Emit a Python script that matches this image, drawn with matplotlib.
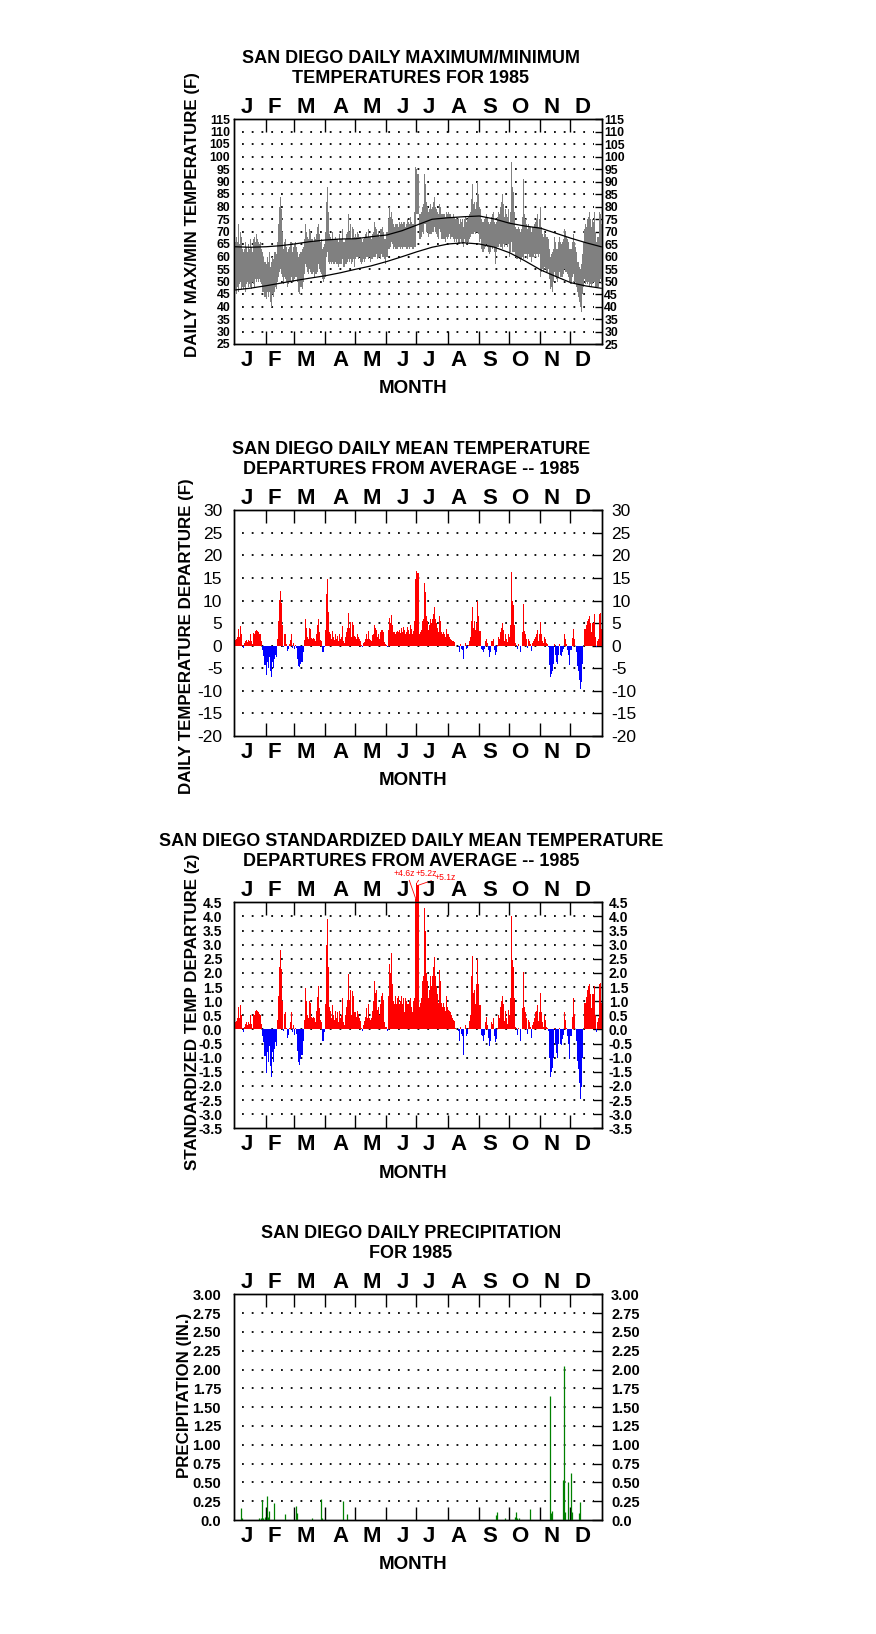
import matplotlib
matplotlib.use("Agg")
import matplotlib.pyplot as plt
from matplotlib.transforms import blended_transform_factory

plt.rcParams["font.family"] = ["Liberation Sans", "DejaVu Sans"]

W, H = 876, 1634
BOX_L, BOX_R = 234.3, 601.7

MONTHS = ["J", "F", "M", "A", "M", "J", "J", "A", "S", "O", "N", "D"]
MONTH_START = [0, 31, 59, 90, 120, 151, 181, 212, 243, 273, 304, 334]
LETTER_DAY = [11.6, 39.7, 70.8, 104.6, 135.9, 166.7, 193.2, 222.6, 253.0, 283.2, 314.2, 345.6]

# daily max / min temperature (F), one line per month
TMAX = [
    64, 66, 68, 66, 73, 65, 70, 68, 63, 62, 63, 66, 64, 62, 65, 63, 67, 64, 62, 67, 68, 66, 69, 67, 66, 65, 66, 63, 62, 60, 58,
    57, 60, 58, 62, 56, 58, 60, 59, 62, 62, 61, 66, 73, 80, 84, 79, 70, 63, 66, 67, 64, 62, 63, 64, 66, 66, 62, 64,
    65, 66, 64, 62, 60, 61, 62, 62, 63, 64, 67, 73, 70, 68, 67, 71, 70, 67, 67, 66, 68, 67, 69, 72, 73, 69, 66, 67, 63, 64, 65,
    70, 82, 88, 78, 69, 68, 67, 70, 67, 67, 68, 67, 67, 66, 69, 67, 67, 71, 66, 66, 67, 69, 70, 77, 70, 73, 67, 72, 71, 68,
    69, 68, 70, 69, 68, 68, 67, 66, 67, 68, 69, 70, 68, 71, 68, 68, 67, 69, 70, 74, 72, 71, 69, 70, 68, 71, 71, 72, 70, 67, 67,
    70, 70, 75, 80, 76, 78, 75, 73, 72, 73, 73, 73, 72, 74, 73, 74, 73, 74, 74, 72, 73, 75, 74, 73, 76, 74, 73, 73, 78, 96,
    95, 93, 77, 77, 78, 80, 81, 93, 89, 82, 80, 78, 79, 81, 79, 80, 82, 84, 80, 79, 78, 77, 81, 80, 77, 77, 77, 77, 76, 78, 77,
    78, 77, 77, 76, 76, 77, 76, 75, 76, 75, 75, 73, 75, 74, 75, 72, 75, 76, 74, 75, 76, 77, 78, 83, 89, 81, 82, 79, 82, 90, 85,
    80, 79, 75, 74, 74, 75, 76, 77, 76, 74, 73, 74, 76, 77, 78, 74, 73, 74, 76, 78, 77, 80, 82, 85, 81, 76, 79, 77, 76, 79,
    74, 78, 98, 88, 86, 78, 72, 71, 71, 72, 71, 70, 71, 76, 91, 77, 75, 73, 71, 73, 72, 72, 70, 72, 72, 73, 74, 75, 77, 72, 75,
    80, 72, 69, 68, 70, 69, 68, 68, 67, 63, 60, 61, 62, 63, 68, 66, 63, 63, 66, 68, 66, 65, 66, 67, 71, 70, 68, 67, 66, 63,
    63, 66, 69, 66, 64, 62, 58, 58, 56, 55, 57, 61, 66, 71, 73, 72, 75, 76, 78, 75, 72, 75, 74, 78, 70, 66, 68, 68, 78, 77, 73,
]
TMIN = [
    46, 47, 45, 48, 46, 49, 50, 47, 48, 47, 48, 46, 49, 50, 48, 49, 48, 47, 50, 49, 48, 51, 50, 51, 50, 51, 50, 49, 46, 46, 44,
    43, 46, 44, 46, 42, 40, 45, 44, 46, 48, 47, 50, 52, 54, 55, 53, 52, 49, 52, 51, 50, 48, 49, 50, 50, 52, 50, 50,
    51, 52, 52, 50, 46, 45, 48, 48, 47, 50, 53, 57, 56, 54, 53, 55, 54, 53, 53, 54, 52, 53, 53, 54, 57, 55, 54, 53, 51, 50, 51,
    52, 60, 62, 58, 57, 58, 57, 58, 57, 57, 58, 57, 57, 56, 57, 57, 57, 59, 56, 56, 57, 57, 58, 59, 58, 59, 57, 58, 59, 56,
    59, 60, 60, 59, 60, 58, 57, 58, 59, 58, 59, 60, 60, 59, 60, 58, 59, 59, 60, 60, 60, 61, 59, 60, 60, 59, 61, 60, 60, 59, 57,
    60, 60, 63, 63, 64, 66, 65, 63, 64, 63, 63, 63, 64, 64, 63, 64, 63, 64, 64, 64, 63, 63, 64, 63, 64, 64, 63, 63, 64, 64,
    77, 77, 67, 67, 68, 70, 69, 73, 73, 70, 70, 68, 69, 69, 69, 70, 70, 72, 70, 69, 68, 67, 71, 70, 67, 67, 67, 67, 66, 68, 67,
    68, 69, 67, 68, 68, 67, 66, 67, 66, 67, 65, 65, 67, 66, 65, 64, 67, 66, 66, 65, 66, 67, 68, 69, 69, 69, 70, 69, 70, 70, 69,
    66, 67, 63, 62, 62, 63, 64, 65, 64, 62, 61, 62, 64, 63, 64, 62, 57, 62, 64, 64, 65, 64, 64, 63, 65, 64, 65, 65, 64, 65,
    60, 62, 66, 62, 62, 62, 60, 59, 59, 60, 59, 58, 59, 60, 59, 61, 61, 61, 59, 61, 60, 60, 58, 60, 60, 61, 60, 61, 61, 60, 61,
    52, 54, 55, 54, 56, 55, 54, 54, 55, 51, 47, 48, 46, 50, 54, 52, 51, 50, 52, 54, 52, 52, 52, 53, 55, 54, 54, 53, 52, 50,
    49, 52, 53, 50, 50, 48, 46, 44, 42, 40, 38, 45, 48, 51, 49, 50, 49, 50, 48, 49, 48, 49, 50, 50, 48, 48, 48, 48, 50, 51, 49,
]

# normal max / min (F) at month starts and mid-months
NORM_DAY = [0, 15, 31, 45, 59, 74, 90, 105, 120, 135, 151, 166, 181, 196, 212, 227, 243, 258, 273, 288, 304, 319, 334, 349, 364]
NORM_MAX = [63.9, 63.7, 63.9, 64.3, 65.0, 65.9, 66.6, 67.0, 67.1, 67.9, 68.6, 70.3, 72.6, 74.9, 75.5, 75.9, 76.2, 75.0, 73.3, 72.2, 71.3, 69.3, 67.3, 65.5, 63.9]
NORM_MIN = [46.6, 47.3, 48.3, 49.3, 50.3, 51.3, 52.3, 53.5, 54.9, 56.2, 58.0, 59.9, 61.9, 63.7, 65.0, 65.5, 65.0, 63.7, 61.5, 58.3, 54.6, 52.0, 49.5, 48.2, 47.3]

# daily mean temperature departure (F)
DEP = [
    0.8, 1.2, 1.5, 2.0, 3.8, 2.0, 4.3, 2.5, 0.2, -0.4, 0.5, 1.0, 1.2, 0.8, 1.3, 1.0, 2.5, 1.0, 0.3, 2.8, 2.5, 3.3, 3.5, 3.2, 3.0, 2.6, 2.6, 1.0, -1.0, -2.2, -4.2,
    -6.5, -3.5, -5.0, -2.5, -5.5, -7.0, -3.5, -5.0, -3.0, -2.0, -2.5, 1.5, 5.5, 10.2, 12.2, 9.5, 4.5, -0.3, 2.5, 2.7, 0.3, -1.2, -0.8, 0.3, 1.2, 2.5, -0.5, 0.5,
    -0.8, 0.2, -0.6, -3.0, -4.5, -4.8, -4.0, -3.5, -3.5, -1.5, 1.3, 6.0, 4.0, 2.0, 1.5, 4.0, 3.8, 1.8, 1.5, 1.7, 1.5, 1.0, 2.5, 4.5, 6.0, 3.0, 1.3, 1.0, -1.5, -1.5, -0.3,
    3.5, 11.5, 14.8, 7.5, 3.0, 2.5, 1.5, 3.3, 2.0, 1.3, 2.5, 1.5, 2.2, 1.0, 2.5, 1.5, 2.0, 4.3, 1.0, 0.5, 2.0, 3.0, 4.0, 7.3, 4.0, 5.3, 2.0, 5.2, 4.5, 2.2,
    2.0, 1.5, 2.5, 2.0, 1.5, 1.0, 0.2, -0.3, 0.5, 0.8, 1.5, 2.5, 1.5, 3.2, 1.5, 1.2, 1.0, 2.3, 2.5, 4.5, 4.0, 3.5, 2.0, 2.5, 1.5, 3.0, 3.5, 3.5, 3.0, 0.8, 0.3,
    0.2, -0.3, 3.5, 6.2, 5.0, 6.8, 4.5, 3.0, 3.0, 2.5, 3.0, 3.2, 3.0, 3.5, 2.8, 4.0, 3.0, 4.2, 3.5, 2.5, 3.0, 4.2, 3.5, 2.5, 4.5, 3.8, 2.5, 3.2, 5.5, 14.8,
    16.5, 16.2, 2.5, 3.0, 3.5, 5.5, 6.0, 13.8, 12.0, 6.5, 5.5, 3.5, 4.5, 6.0, 5.0, 6.0, 7.0, 8.5, 6.0, 5.0, 4.0, 3.0, 6.5, 5.5, 3.0, 2.5, 3.0, 2.5, 2.0, 3.8, 2.5,
    2.5, 2.0, 1.5, 1.2, 1.0, 1.0, 0.8, 0.0, 0.0, 0.0, -0.2, -1.5, 0.3, -0.7, -1.0, -3.0, 0.0, 0.5, -0.8, -0.5, 0.2, 1.0, 2.0, 5.5, 8.5, 4.0, 5.5, 3.5, 5.0, 9.8, 6.5,
    3.3, 3.3, -0.8, -1.0, -1.5, -0.8, 1.0, 1.5, 0.5, -1.0, -2.5, -1.5, 1.0, 1.0, 1.5, -1.0, -2.0, -1.5, 0.2, 2.0, 1.5, 3.0, 4.0, 5.0, 3.5, 1.0, 2.5, 1.5, 0.8, 2.5,
    2.0, 4.5, 16.3, 10.0, 9.0, 4.5, 0.5, 0.0, -0.8, 0.3, 0.0, -1.5, 0.0, 3.0, 9.2, 3.3, 2.5, 1.5, -0.5, 1.5, 1.0, 0.3, -1.2, 0.5, 1.0, 1.5, 2.0, 2.5, 3.5, 1.0, 2.5,
    5.2, 2.5, 1.0, 0.5, 2.0, 1.5, 0.5, 0.3, -0.3, -4.2, -7.0, -6.3, -5.5, -4.0, 0.3, -2.0, -3.5, -4.0, -2.0, 0.3, -2.0, -2.2, -1.5, -0.8, 2.5, 1.5, 0.3, -1.0, -2.0, -4.2,
    -1.0, 1.8, 3.8, 1.5, 0.0, -1.5, -4.5, -5.5, -7.5, -9.5, -8.0, -4.0, 0.0, 3.8, 3.8, 4.5, 5.5, 6.0, 6.5, 5.0, 3.0, 5.0, 5.0, 7.0, 2.0, -0.3, 1.0, 1.5, 7.0, 7.3, 3.8,
]

# standardized daily mean temperature departure (z)
ZDEP = [
    0.15, 0.25, 0.3, 0.4, 0.8, 0.4, 0.85, 0.5, 0.05, -0.1, 0.1, 0.2, 0.25, 0.15, 0.25, 0.2, 0.5, 0.2, 0.05, 0.55, 0.5, 0.65, 0.7, 0.65, 0.6, 0.55, 0.5, 0.2, -0.25, -0.45, -0.95,
    -1.55, -0.8, -1.15, -0.6, -1.3, -1.7, -0.8, -1.15, -0.7, -0.45, -0.6, 0.35, 1.2, 2.2, 2.8, 2.15, 1.0, -0.05, 0.55, 0.6, 0.05, -0.3, -0.2, 0.05, 0.25, 0.6, -0.1, 0.15,
    -0.2, 0.05, -0.15, -0.75, -1.15, -1.25, -1.05, -0.9, -0.9, -0.4, 0.35, 1.45, 1.0, 0.5, 0.4, 1.0, 0.95, 0.45, 0.4, 0.45, 0.4, 0.25, 0.65, 1.15, 1.55, 0.75, 0.35, 0.25, -0.4, -0.4, -0.1,
    0.9, 3.0, 3.9, 2.2, 0.8, 0.65, 0.4, 0.85, 0.5, 0.35, 0.65, 0.4, 0.6, 0.25, 0.65, 0.4, 0.5, 1.1, 0.25, 0.15, 0.5, 0.8, 1.05, 1.95, 1.05, 1.4, 0.5, 1.35, 1.2, 0.6,
    0.6, 0.45, 0.65, 0.55, 0.4, 0.3, 0.05, -0.05, 0.15, 0.3, 0.45, 0.75, 0.4, 0.9, 0.4, 0.35, 0.4, 0.65, 1.0, 1.7, 1.3, 1.4, 0.7, 0.8, 0.5, 0.9, 1.2, 1.3, 1.05, 0.25, 0.1,
    0.1, -0.05, 1.2, 2.3, 2.0, 2.7, 1.6, 1.0, 0.9, 1.2, 0.9, 1.1, 1.2, 0.9, 1.0, 1.2, 0.9, 1.1, 0.6, 1.1, 1.0, 0.9, 0.9, 1.0, 1.1, 0.8, 0.6, 1.0, 1.1, 4.6,
    5.2, 5.1, 0.8, 0.95, 1.1, 1.7, 1.9, 4.3, 3.5, 2.0, 1.7, 1.1, 1.4, 1.9, 1.55, 1.9, 2.2, 2.55, 1.9, 1.55, 1.25, 0.95, 2.1, 1.7, 0.95, 0.8, 0.95, 0.8, 0.65, 1.2, 0.8,
    0.7, 0.65, 0.6, 0.5, 0.4, 0.35, 0.3, 0.05, 0.0, 0.0, -0.05, -0.4, 0.1, -0.15, -0.25, -0.9, 0.0, 0.15, -0.25, -0.15, 0.05, 0.3, 0.5, 1.9, 2.6, 1.3, 1.4, 0.9, 1.6, 2.5, 1.6,
    0.85, 0.85, -0.2, -0.25, -0.4, -0.2, 0.25, 0.45, 0.15, -0.3, -0.6, -0.4, 0.25, 0.2, 0.4, -0.25, -0.45, -0.35, 0.05, 0.5, 0.4, 0.8, 1.0, 1.2, 0.9, 0.3, 0.65, 0.4, 0.2, 0.7,
    0.5, 1.1, 4.0, 2.45, 2.2, 1.1, 0.1, 0.0, -0.2, 0.05, 0.0, -0.4, 0.0, 0.75, 2.05, 0.8, 0.6, 0.4, -0.15, 0.35, 0.25, 0.1, -0.3, 0.15, 0.25, 0.4, 0.6, 0.65, 0.85, 0.3, 0.6,
    1.3, 0.6, 0.25, 0.1, 0.5, 0.35, 0.1, 0.05, -0.05, -1.0, -1.7, -1.5, -1.35, -1.0, 0.05, -0.5, -0.85, -1.0, -0.5, 0.05, -0.5, -0.55, -0.35, -0.2, 0.6, 0.35, 0.05, -0.25, -0.5, -1.05,
    -0.25, 0.45, 1.1, 0.55, 0.0, -0.4, -1.1, -1.4, -1.9, -2.45, -2.05, -1.0, 0.0, 0.95, 0.95, 1.15, 1.4, 1.55, 1.6, 1.25, 0.75, 1.25, 1.25, 1.55, 0.5, -0.1, 0.25, 0.4, 1.6, 1.65, 0.95,
]

# daily precipitation (in.), only days with rain
PRCP_DAY = [6, 7, 24, 26, 27, 28, 30, 32, 33, 34, 39, 50, 61, 62, 77, 86, 87, 107, 111, 259,
            260, 268, 278, 279, 280, 282, 293, 313, 314, 315, 326, 327, 328, 331, 334, 335, 342, 343]
PRCP_IN = [0.16, 0.03, 0.02, 0.03, 0.27, 0.03, 0.04, 0.32, 0.04, 0.12, 0.23, 0.08, 0.18, 0.09, 0.03, 0.28, 0.03, 0.25, 0.08, 0.07,
           0.10, 0.03, 0.04, 0.10, 0.02, 0.02, 0.15, 1.65, 0.09, 0.12, 0.53, 2.05, 0.10, 0.51, 0.63, 0.10, 0.09, 0.24]

for name, arr in [("TMAX", TMAX), ("TMIN", TMIN), ("DEP", DEP), ("ZDEP", ZDEP)]:
    if len(arr) != 365:
        raise SystemExit(f"{name} has {len(arr)} values")

DAYS = list(range(365))

fig = plt.figure(figsize=(W / 100, H / 100), dpi=100)


def put(x, y, s, fs, weight="bold", ha="center", xtrans=None, **kw):
    # y is the pixel centre of the capitals, measured from the top
    base = y + 0.716 * fs * 100 / 72 / 2
    if xtrans is None:
        fig.text(x / W, 1 - base / H, s, fontsize=fs, fontweight=weight, ha=ha, va="baseline", **kw)
    else:
        tr = blended_transform_factory(xtrans, fig.transFigure)
        fig.text(x, 1 - base / H, s, fontsize=fs, fontweight=weight, ha=ha, va="baseline", transform=tr, **kw)


def panel(top, bottom, ylo, yhi, step, fmt, tick_fs, tick_w, lpad, rpad, rlen, titles, ylabel, ylab_xy):
    ax = fig.add_axes([BOX_L / W, 1 - bottom / H, (BOX_R - BOX_L) / W, (bottom - top) / H])
    n = int(round((yhi - ylo) / step)) + 1
    vals = [ylo + i * step for i in range(n)]
    labels = [fmt(v) for v in vals]
    ax.set_xlim(-0.5, 364.5)
    ax.set_ylim(ylo, yhi)
    for v in vals[1:-1]:
        ax.axhline(v, xmin=0.022, xmax=0.978, color="black", lw=1.3,
                   linestyle=(0, (1.0, 4.4)), zorder=0.5)
    ax.set_xticks([s - 0.5 for s in MONTH_START[1:]])
    ax.tick_params(axis="x", direction="in", length=9.4, width=1.0, top=True, bottom=True,
                   labelbottom=False, labeltop=False)
    ax.set_yticks(vals)
    ax.set_yticklabels(labels, fontsize=tick_fs, fontweight=tick_w)
    ax.tick_params(axis="y", left=False, right=False, length=0, pad=lpad)
    ax2 = ax.twinx()
    ax2.set_ylim(ylo, yhi)
    ax2.set_yticks(vals)
    ax2.set_yticklabels(labels, fontsize=tick_fs, fontweight=tick_w)
    ax2.tick_params(axis="y", direction="in", length=rlen, width=1.0, pad=rpad)
    ax.tick_params(axis="y", left=False, right=False)
    for a in (ax, ax2):
        for sp in a.spines.values():
            sp.set_linewidth(1.0)
    ax.set_zorder(2)
    ax.patch.set_visible(False)

    for i, s in enumerate(MONTHS):
        put(LETTER_DAY[i], top - 14, s, 16, xtrans=ax.transData)
        put(LETTER_DAY[i], bottom + 14, s, 16, xtrans=ax.transData)
    put(413, bottom + 42.5, "MONTH", 13.5)
    put(411, top - 62.5, titles[0], 13)
    put(411, top - 42.5, titles[1], 13)
    fig.text(ylab_xy[0] / W, 1 - ylab_xy[1] / H, ylabel, rotation=90, fontsize=12.2,
             fontweight="bold", ha="center", va="center")
    return ax


# panel 1: daily max / min
ax1 = panel(119, 344, 25, 115, 5, lambda v: f"{v:.0f}", 8.8, "bold", 3.0, 1.9, 5,
            ("SAN DIEGO DAILY MAXIMUM/MINIMUM", "TEMPERATURES FOR 1985"),
            "DAILY MAX/MIN TEMPERATURE (F)", (192, 215))
ax1.bar(DAYS, [a - b for a, b in zip(TMAX, TMIN)], bottom=TMIN, width=1.0,
        color="#808080", linewidth=0, zorder=2)
ax1.plot(NORM_DAY, NORM_MAX, color="black", lw=0.9, zorder=3)
ax1.plot(NORM_DAY, NORM_MIN, color="black", lw=0.9, zorder=3)

# panel 2: mean departure
ax2 = panel(510.3, 736, -20, 30, 5, lambda v: f"{v:.0f}", 12.5, "normal", 8.5, 6.8, 7.5,
            ("SAN DIEGO DAILY MEAN TEMPERATURE", "DEPARTURES FROM AVERAGE -- 1985"),
            "DAILY TEMPERATURE DEPARTURE (F)", (187, 636))
ax2.bar(DAYS, DEP, width=1.0, color=["#ff0000" if v > 0 else "#0000ff" for v in DEP],
        linewidth=0, zorder=2)

# panel 3: standardized departure
ax3 = panel(902.3, 1128.3, -3.5, 4.5, 0.5, lambda v: f"{v:.1f}", 10, "bold", 8.5, 5.0, 6.2,
            ("SAN DIEGO STANDARDIZED DAILY MEAN TEMPERATURE", "DEPARTURES FROM AVERAGE -- 1985"),
            "STANDARDIZED TEMP DEPARTURE (z)", (192, 1012))
ax3.bar(DAYS, ZDEP, width=1.0, color=["#ff0000" if v > 0 else "#0000ff" for v in ZDEP],
        linewidth=0, zorder=2, clip_on=False)
for d, txt_xy, rel in [(180, (404, 873), (0.7, 0.0)), (181, (426, 873), (0.25, 0.0)),
                       (182, (445, 877.5), (0.05, 0.3))]:
    ax3.annotate(f"+{ZDEP[d]:.1f}z", xy=(d, ZDEP[d]), xycoords="data",
                 xytext=(txt_xy[0], H - txt_xy[1]), textcoords="figure pixels",
                 ha="center", va="center", fontsize=6.2, color="red", annotation_clip=False,
                 arrowprops=dict(arrowstyle="-", color="red", lw=0.6, shrinkA=0, shrinkB=0, relpos=rel))

# panel 4: precipitation
ax4 = panel(1294.3, 1520, 0.0, 3.0, 0.25, lambda v: "0.0" if v == 0 else f"{v:.2f}", 10.5, "bold", 9.5, 6.8, 7,
            ("SAN DIEGO DAILY PRECIPITATION", "FOR 1985"),
            "PRECIPITATION (IN.)", (184, 1395))
ax4.vlines(PRCP_DAY, 0, PRCP_IN, color="#008000", lw=0.9, zorder=2)

fig.savefig("out.png", dpi=100)
